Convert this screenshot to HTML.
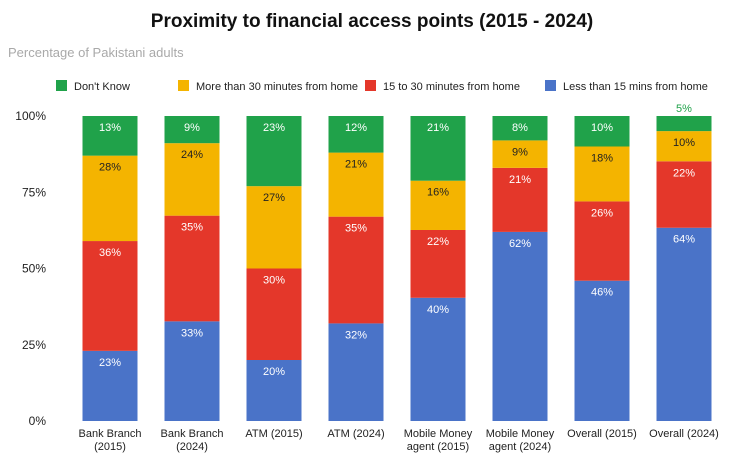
<!DOCTYPE html>
<html><head><meta charset="utf-8"><style>
body{margin:0;background:#fff;font-family:"Liberation Sans",Arial,sans-serif}
svg text{font-family:"Liberation Sans",Arial,sans-serif}
</style></head><body>
<svg id="chart" width="743" height="464" xmlns="http://www.w3.org/2000/svg">
<text x="372" y="27" text-anchor="middle" font-size="19" font-weight="bold" fill="#111">Proximity to financial access points (2015 - 2024)</text>
<text x="8" y="57" font-size="13" fill="#a9a9a9">Percentage of Pakistani adults</text>
<g id="legend"></g>
<g id="yaxis"></g>
<g id="bars"></g>
<g id="xaxis"></g>
</svg>
<script>
const categories=[["Bank Branch","(2015)"],["Bank Branch","(2024)"],["ATM (2015)"],["ATM (2024)"],["Mobile Money","agent (2015)"],["Mobile Money","agent (2024)"],["Overall (2015)"],["Overall (2024)"]];
const lessThan15=[23,33,20,32,40,62,46,64];
const from15to30=[36,35,30,35,22,21,26,22];
const moreThan30=[28,24,27,21,16,9,18,10];
const dontKnow=[13,9,23,12,21,8,10,5];
const seriesNames=["Less than 15 mins from home","15 to 30 minutes from home","More than 30 minutes from home","Don't Know"];
const yTicks=[0,25,50,75,100];
const colors=["#4a73c8","#e4372a","#f4b400","#20a24a"];
const textColors=["#fff","#fff","#222","#fff"];
const ns="http://www.w3.org/2000/svg";
const y0=421,yTop=116;
function y(v){return y0-(y0-yTop)*v/100;}
function xc(i){return 110+i*82;}
const bw=55;
function mk(t,a,p){const e=document.createElementNS(ns,t);for(const k in a)e.setAttribute(k,a[k]);p.appendChild(e);return e;}
const yg=document.getElementById('yaxis');
yTicks.forEach(v=>{const t=mk('text',{x:46,y:y(v)+4,'text-anchor':'end','font-size':12,fill:'#222'},yg);t.textContent=v+'%';

});
const lg=document.getElementById('legend');
const legOrder=[3,2,1,0];const legX=[56,178,365,545];
legOrder.forEach((s,k)=>{const r=mk('rect',{x:legX[k],y:80,width:11,height:11,fill:colors[s]},lg);


const t=mk('text',{x:legX[k]+18,y:90,'font-size':11,fill:'#222'},lg);t.textContent=seriesNames[s];

});
const bg=document.getElementById('bars');const xg=document.getElementById('xaxis');
const series=[lessThan15,from15to30,moreThan30,dontKnow];
categories.forEach((c,i)=>{
 const tot=series.reduce((a,s)=>a+s[i],0);let acc=0;
 series.forEach((s,j)=>{const v=s[i]*100/tot;const yt=y(acc+v),yb=y(acc);
  const r=mk('rect',{x:xc(i)-bw/2,y:yt,width:bw,height:yb-yt,fill:colors[j]},bg);
  
  
  const small=(yb-yt)<20;
  const t=mk('text',{x:xc(i),y:small?yt-4:yt+15,'text-anchor':'middle','font-size':11,fill:small?colors[j]:textColors[j]},bg);t.textContent=s[i]+'%';
  
  
  acc+=v;});
 c.forEach((ln,k)=>{const t=mk('text',{x:xc(i),y:437+k*13,'text-anchor':'middle','font-size':11,fill:'#222'},xg);t.textContent=ln;
  
  });
});
</script>
</body></html>
